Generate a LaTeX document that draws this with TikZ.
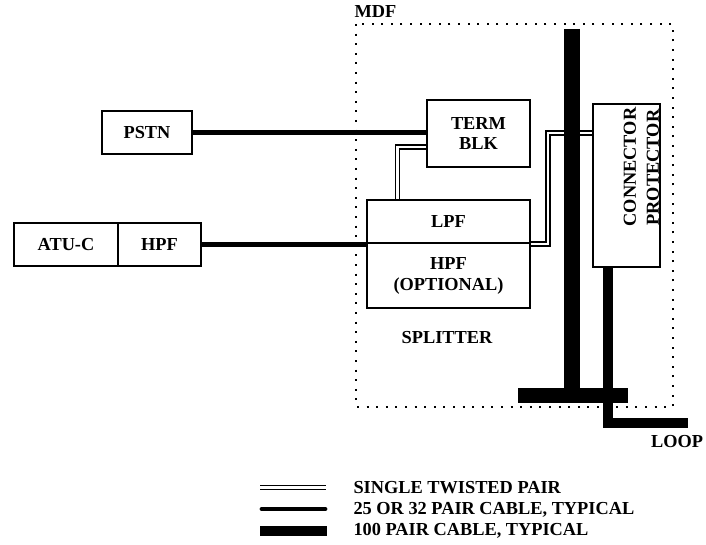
\documentclass[tikz,border=0pt]{standalone}
\usepackage{fontspec}
\setmainfont{Liberation Serif}
\usetikzlibrary{positioning,calc}

\begin{document}
\begin{tikzpicture}[x=1bp,y=-1bp,
    font=\fontsize{18.4}{21}\selectfont\bfseries,
    blk/.style={draw,line width=1.6bp,inner sep=0pt,align=center},
    cable/.style={line width=4.8bp},
    tpair/.style={double,double distance=2.2bp,line width=1.6bp},
    trunk/.style={line width=16bp},
    drop/.style={line width=10bp}]
  \useasboundingbox (0,0) rectangle (706,545);
  % frame of the MDF
  \draw[line width=2bp,dash pattern=on 2bp off 7.6bp] (356,24) rectangle (673,407);
  \node[anchor=west] (mdf) at (351,12) {MDF};
  % boxes
  \node[blk,minimum width=90bp,minimum height=43bp] (pstn) at (147,132.5) {PSTN};
  \node[blk,minimum width=104bp,minimum height=43bp] (atuc) at (66,244.5) {ATU-C};
  \node[blk,minimum width=83bp,minimum height=43bp] (hpfl) at (159.5,244.5) {HPF};
  \node[blk,minimum width=103bp,minimum height=67bp] (term) at (478.5,133.5) {TERM\\BLK};
  \node[blk,minimum width=163bp,minimum height=43bp] (lpf) at (448.5,221.5) {LPF};
  \node[blk,minimum width=163bp,minimum height=65bp] (hpfs) at (448.5,275.5) {HPF\\(OPTIONAL)};
  \node (split) at (447,338) {SPLITTER};
  \node[blk,minimum width=67bp,minimum height=163bp] (conn) at (626.5,185.5) {};
  \node[rotate=90,anchor=west] (cnt) at (630,230) {CONNECTOR};
  \node[rotate=90,anchor=west] (prt) at (653,229) {PROTECTOR};
  % cables
  \draw[cable] (pstn.east) -- (pstn.east -| term.west);
  \draw[cable] (hpfl.east) -- (hpfl.east -| lpf.west);
  \draw[tpair] ([yshift=-13.5bp]term.west) -| ([xshift=-51bp]lpf.north);
  \draw[tpair] (lpf.south east) -- ++(17,0) |- ([yshift=52.5bp]conn.west);
  % 100 pair
  \draw[trunk] (572,29) -- (572,388);
  \draw[line width=15bp] (518,395.5) -- (628,395.5);
  \coordinate (lp) at (688,423);
  \draw[drop] ([xshift=-18.5bp]conn.south) |- (lp);
  \node (loop) at (677,442) {LOOP};
  % legend
  \draw[tpair] (260,487.5) -- (326,487.5);
  \draw[cable,line cap=round] (262,509) -- (325,509);
  \draw[drop] (260,531) -- (327,531);
  \node[anchor=west] (k1) at (350,488) {SINGLE TWISTED PAIR};
  \node[anchor=west] (k2) at (350,509.5) {25 OR 32 PAIR CABLE, TYPICAL};
  \node[anchor=west] (k3) at (350,531) {100 PAIR CABLE, TYPICAL};
\end{tikzpicture}
\end{document}
